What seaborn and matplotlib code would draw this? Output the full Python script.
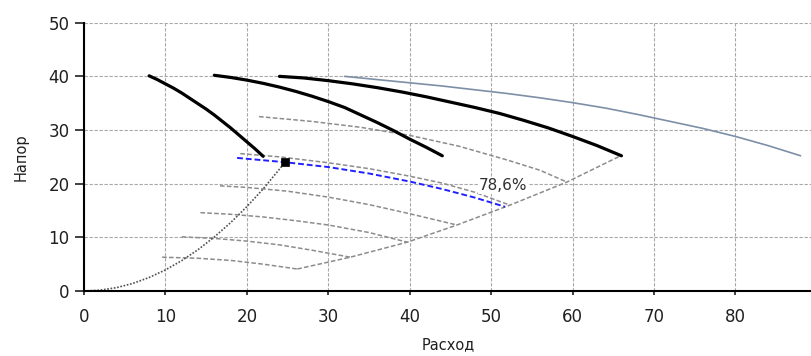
import numpy as np
import pandas as pd
import seaborn as sns
import matplotlib
matplotlib.use("Agg")
import matplotlib.pyplot as plt

# Кривые насоса (расход / напор)
q_pump1 = [8, 9, 10, 11, 12, 13, 14, 15, 16, 17, 18, 19, 20, 21, 22]
h_pump1 = [40.1, 39.4, 38.6, 37.8, 36.9, 35.9, 34.9, 33.9, 32.8, 31.6, 30.4, 29.1, 27.8, 26.5, 25.1]
q_pump2 = [16, 18, 20, 22, 24, 26, 28, 30, 32, 34, 36, 38, 40, 42, 44]
h_pump2 = [40.2, 39.8, 39.3, 38.7, 38.0, 37.2, 36.3, 35.3, 34.2, 32.8, 31.4, 29.9, 28.3, 26.8, 25.2]
q_pump3 = [24, 27, 30, 33, 36, 39, 42, 45, 48, 51, 54, 57, 60, 63, 66]
h_pump3 = [40.0, 39.7, 39.2, 38.6, 37.9, 37.1, 36.2, 35.2, 34.2, 33.1, 31.8, 30.4, 28.8, 27.1, 25.2]
q_pump4 = [32, 36, 40, 44, 48, 52, 56, 60, 64, 68, 72, 76, 80, 84, 88]
h_pump4 = [40.0, 39.4, 38.8, 38.2, 37.5, 36.8, 36.0, 35.1, 34.1, 32.9, 31.6, 30.3, 28.8, 27.1, 25.2]

# Линии КПД (серые пунктиры)
q_eff1 = [9.6, 14, 18, 22, 26.2]
h_eff1 = [6.3, 6.1, 5.7, 5.0, 4.1]
q_eff2 = [12.0, 16, 20, 24, 28, 32.7]
h_eff2 = [10.1, 9.8, 9.3, 8.6, 7.6, 6.3]
q_eff3 = [14.3, 18, 22, 26, 30, 35, 39.7]
h_eff3 = [14.6, 14.3, 13.8, 13.1, 12.3, 10.9, 9.1]
q_eff4 = [16.7, 20, 25, 30, 35, 40, 45.8]
h_eff4 = [19.6, 19.3, 18.6, 17.5, 16.1, 14.4, 12.3]
q_eff5 = [19.2, 24, 30, 35, 40, 44, 48, 52.3]
h_eff5 = [25.6, 25.0, 23.9, 22.8, 21.4, 20.1, 18.4, 16.0]
q_eff6 = [21.5, 28, 34, 40, 46, 52, 56, 59.3]
h_eff6 = [32.5, 31.6, 30.5, 29.0, 27.0, 24.4, 22.5, 20.3]

# Граница (огибающая) правых концов
q_edge = [26.2, 32.7, 39.7, 45.8, 52.3, 59.3, 65.9]
h_edge = [4.1, 6.3, 9.1, 12.3, 16.0, 20.3, 25.2]

# КПД в рабочей точке (синяя)
q_work = [18.8, 24.7, 30, 35, 40, 44, 48, 51.7]
h_work = [24.8, 24.0, 23.1, 21.9, 20.4, 19.0, 17.4, 15.7]

# Характеристика сети
q_net = [0, 2, 4, 6, 8, 10, 12, 14, 16, 18, 20, 22, 24.7]
h_net = [0, 0.16, 0.63, 1.41, 2.52, 3.93, 5.66, 7.70, 10.06, 12.73, 15.72, 19.02, 24.0]

# Рабочая точка
q_point = [24.7]
h_point = [24.0]

eff_label = "78,6%"
x_ticks = [0, 10, 20, 30, 40, 50, 60, 70, 80]
y_ticks = [0, 10, 20, 30, 40, 50]

sns.set_theme(style="white")
plt.rcParams['font.family'] = ['DejaVu Sans']

fig = plt.figure(figsize=(8.12, 3.56), dpi=100)
ax = fig.add_axes([84 / 812, 65 / 356, 728 / 812, 268.3 / 356])

dash = (0, (3, 1.5))

for q, h in [(q_eff1, h_eff1), (q_eff2, h_eff2), (q_eff3, h_eff3),
             (q_eff4, h_eff4), (q_eff5, h_eff5), (q_eff6, h_eff6), (q_edge, h_edge)]:
    sns.lineplot(x=q, y=h, ax=ax, color="#8c8c8c", linewidth=1.1,
                 linestyle=dash, sort=False, estimator=None)

sns.lineplot(x=q_work, y=h_work, ax=ax, color="#2020ff", linewidth=1.4,
             linestyle=dash, sort=False, estimator=None)

sns.lineplot(x=q_net, y=h_net, ax=ax, color="#505050", linewidth=1.2,
             linestyle=(0, (1, 1)), sort=False, estimator=None)

for q, h in [(q_pump1, h_pump1), (q_pump2, h_pump2), (q_pump3, h_pump3)]:
    sns.lineplot(x=q, y=h, ax=ax, color="black", linewidth=2.3,
                 sort=False, estimator=None)

sns.lineplot(x=q_pump4, y=h_pump4, ax=ax, color="#7d8fa6", linewidth=1.2,
             sort=False, estimator=None)

sns.scatterplot(x=q_point, y=h_point, ax=ax, marker="s", s=40,
                color="black", edgecolor="black", zorder=6)

ax.text(51.4, 19.7, eff_label, fontsize=11, color="#303030",
        ha="center", va="center", zorder=7,
        bbox=dict(facecolor="white", edgecolor="none", pad=0.5))

ax.set_xlim(0, 89.4)
ax.set_ylim(0, 50)
ax.set_xticks(x_ticks)
ax.set_yticks(y_ticks)

ax.grid(True, color="#a8a8a8", linestyle=dash, linewidth=0.8)
ax.set_axisbelow(True)

for side in ["top", "right"]:
    ax.spines[side].set_visible(False)
for side in ["left", "bottom"]:
    ax.spines[side].set_color("black")
    ax.spines[side].set_linewidth(1.5)

ax.tick_params(axis="y", length=6.5, width=1.2, pad=4, labelsize=12,
               colors="#202020", left=True)
ax.tick_params(axis="x", length=3, width=1.2, pad=9, labelsize=12,
               colors="#202020", bottom=True)

ax.set_xlabel("Расход", fontsize=10.5, labelpad=8, color="#202020")
ax.set_ylabel("Напор", fontsize=10.5, labelpad=14, color="#202020")

fig.savefig("out.png", dpi=100)
